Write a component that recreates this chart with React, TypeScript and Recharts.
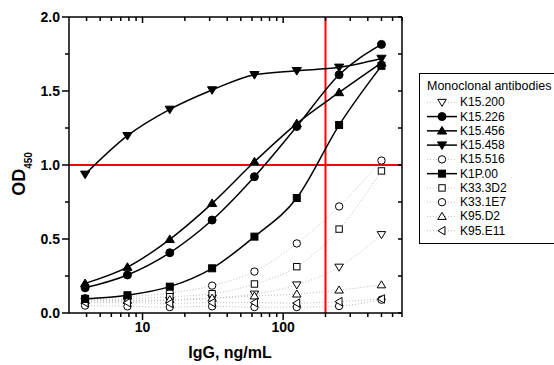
import { ComposedChart, Line, XAxis, YAxis, ReferenceLine } from 'recharts';

const F = '"Liberation Sans", Arial, sans-serif';

// IgG concentration, ng/mL (two-fold dilutions)
const conc = [3.90625, 7.8125, 15.625, 31.25, 62.5, 125, 250, 500];

// OD450 per antibody
const k15_200 = [0.08, 0.08, 0.085, 0.1, 0.128, 0.19, 0.31, 0.53];
const k15_226 = [0.17, 0.257, 0.407, 0.628, 0.921, 1.26, 1.61, 1.815];
const k15_456 = [0.2, 0.31, 0.498, 0.741, 1.022, 1.28, 1.49, 1.69];
const k15_458 = [0.937, 1.198, 1.376, 1.507, 1.61, 1.637, 1.66, 1.72];
const k15_516 = [0.1, 0.11, 0.135, 0.185, 0.28, 0.47, 0.72, 1.03];
const k1p_00 = [0.095, 0.12, 0.178, 0.302, 0.516, 0.777, 1.27, 1.67];
const k33_3d2 = [0.09, 0.095, 0.11, 0.13, 0.196, 0.313, 0.567, 0.96];
const k33_1e7 = [0.05, 0.045, 0.04, 0.045, 0.04, 0.04, 0.047, 0.09];
const k95_d2 = [0.085, 0.085, 0.09, 0.1, 0.115, 0.128, 0.155, 0.19];
const k95_e11 = [0.07, 0.07, 0.065, 0.07, 0.07, 0.067, 0.077, 0.095];

const xTicks = [4, 5, 6, 7, 8, 9, 10, 20, 30, 40, 50, 60, 70, 80, 90, 100, 200, 300, 400, 500, 600, 700];
const xLabelTicks = [10, 100];
const yTicks = [0, 0.25, 0.5, 0.75, 1, 1.25, 1.5, 1.75, 2];

type Shape = 'circle' | 'square' | 'up' | 'down' | 'left';

const series: { key: string; name: string; values: number[]; shape: Shape; filled: boolean }[] = [
  { key: 'k15_200', name: 'K15.200', values: k15_200, shape: 'down', filled: false },
  { key: 'k15_226', name: 'K15.226', values: k15_226, shape: 'circle', filled: true },
  { key: 'k15_456', name: 'K15.456', values: k15_456, shape: 'up', filled: true },
  { key: 'k15_458', name: 'K15.458', values: k15_458, shape: 'down', filled: true },
  { key: 'k15_516', name: 'K15.516', values: k15_516, shape: 'circle', filled: false },
  { key: 'k1p_00', name: 'K1P.00', values: k1p_00, shape: 'square', filled: true },
  { key: 'k33_3d2', name: 'K33.3D2', values: k33_3d2, shape: 'square', filled: false },
  { key: 'k33_1e7', name: 'K33.1E7', values: k33_1e7, shape: 'circle', filled: false },
  { key: 'k95_d2', name: 'K95.D2', values: k95_d2, shape: 'up', filled: false },
  { key: 'k95_e11', name: 'K95.E11', values: k95_e11, shape: 'left', filled: false },
];

const data = conc.map((c, i) => {
  const row: Record<string, number> = { c };
  series.forEach((s) => (row[s.key] = s.values[i]));
  return row;
});

const Marker = ({ cx, cy, shape, filled }: { cx?: number; cy?: number; shape: Shape; filled: boolean }) => {
  if (cx == null || cy == null) return null;
  const fill = filled ? '#000' : '#fff';
  const p = { fill, stroke: '#000', strokeWidth: 1 };
  const r = filled ? 4 : 3.7;
  if (shape === 'circle') return <circle cx={cx} cy={cy} r={r} {...p} />;
  if (shape === 'square') return <rect x={cx - r + 0.5} y={cy - r + 0.5} width={2 * r - 1} height={2 * r - 1} {...p} />;
  if (shape === 'up')
    return <polygon points={`${cx},${cy - r * 1.1} ${cx + r * 1.15},${cy + r * 0.8} ${cx - r * 1.15},${cy + r * 0.8}`} {...p} />;
  if (shape === 'down')
    return <polygon points={`${cx},${cy + r * 1.1} ${cx + r * 1.15},${cy - r * 0.8} ${cx - r * 1.15},${cy - r * 0.8}`} {...p} />;
  return <polygon points={`${cx - r * 1.1},${cy} ${cx + r * 0.8},${cy - r * 1.15} ${cx + r * 0.8},${cy + r * 1.15}`} {...p} />;
};

const BottomTick = (props: any) => {
  const { x, y, payload } = props;
  const major = xLabelTicks.includes(payload.value);
  return (
    <g>
      <line x1={x} x2={x} y1={y} y2={y + (major ? 7 : 4)} stroke="#000" strokeWidth={1.5} />
      {major && (
        <text x={x} y={y + 14} textAnchor="middle" dominantBaseline="central" fontFamily={F} fontWeight="bold" fontSize={14} fill="#000">
          {payload.value}
        </text>
      )}
    </g>
  );
};

const TopTick = (props: any) => {
  const { x, y, payload } = props;
  const major = xLabelTicks.includes(payload.value);
  return <line x1={x} x2={x} y1={y} y2={y + (major ? 6 : 4)} stroke="#000" strokeWidth={1.5} />;
};

const LeftTick = (props: any) => {
  const { x, y, payload } = props;
  const major = payload.value % 0.5 === 0;
  return (
    <g>
      <line x1={x} x2={x - (major ? 7 : 4)} y1={y} y2={y} stroke="#000" strokeWidth={1.5} />
      {major && (
        <text x={x - 9} y={y} textAnchor="end" dominantBaseline="central" fontFamily={F} fontWeight="bold" fontSize={14} fill="#000">
          {payload.value.toFixed(1)}
        </text>
      )}
    </g>
  );
};

const RightTick = (props: any) => {
  const { x, y } = props;
  return <line x1={x} x2={x - 4} y1={y} y2={y} stroke="#000" strokeWidth={1.5} />;
};

const axisLine = { stroke: '#000', strokeWidth: 1.5 };

export default function App() {
  return (
    <div style={{ position: 'absolute', left: 0, top: 0, width: 554, height: 365, overflow: 'hidden', background: '#fff' }}>
      <ComposedChart width={554} height={365} data={data} margin={{ top: 7, right: 0, bottom: 22, left: 0 }}>
        <XAxis xAxisId="b" dataKey="c" type="number" scale="log" domain={[3, 700]} allowDataOverflow ticks={xTicks} interval={0}
          tickLine={false} tickSize={0} tickMargin={0} height={30} axisLine={axisLine} tick={BottomTick} />
        <XAxis xAxisId="t" orientation="top" dataKey="c" type="number" scale="log" domain={[3, 700]} allowDataOverflow ticks={xTicks} interval={0}
          tickLine={false} tickSize={0} tickMargin={0} height={10} axisLine={axisLine} tick={TopTick} />
        <YAxis yAxisId="l" type="number" domain={[0, 2]} ticks={yTicks} interval={0} tickLine={false} tickSize={0} tickMargin={0}
          width={69} axisLine={axisLine} tick={LeftTick} />
        <YAxis yAxisId="r" orientation="right" type="number" domain={[0, 2]} ticks={yTicks} interval={0} tickLine={false} tickSize={0}
          tickMargin={0} width={152} axisLine={axisLine} tick={RightTick} />
        {series.filter((s) => !s.filled).map((s) => (
          <Line key={s.key} xAxisId="t" yAxisId="r" dataKey={s.key} type="monotone" stroke="#bdbdbd" strokeWidth={1}
            strokeDasharray="1 2" isAnimationActive={false} activeDot={false}
            dot={(p: any) => <Marker key={`${s.key}-${p.index}`} cx={p.cx} cy={p.cy} shape={s.shape} filled={false} />} />
        ))}
        <ReferenceLine xAxisId="b" yAxisId="l" y={1} stroke="#ff0000" strokeWidth={2} />
        <ReferenceLine xAxisId="b" yAxisId="l" x={200} stroke="#ff0000" strokeWidth={2} />
        {series.filter((s) => s.filled).map((s) => (
          <Line key={s.key} xAxisId="b" yAxisId="l" dataKey={s.key} type="monotone" stroke="#000" strokeWidth={1.5}
            isAnimationActive={false} activeDot={false}
            dot={(p: any) => <Marker key={`${s.key}-${p.index}`} cx={p.cx} cy={p.cy} shape={s.shape} filled />} />
        ))}
      </ComposedChart>
      <svg width={554} height={365} style={{ position: 'absolute', left: 0, top: 0, pointerEvents: 'none' }}>
        <text transform="translate(25,174) rotate(-90)" textAnchor="middle" fontFamily={F} fontWeight="bold" fontSize={18} fill="#000">
          OD<tspan dy={7} fontSize={10}>450</tspan>
        </text>
        <text x={230} y={358} textAnchor="middle" fontFamily={F} fontWeight="bold" fontSize={16} fill="#000">
          IgG, ng/mL
        </text>
        <rect x={419.5} y={73.5} width={150} height={170} fill="#fff" stroke="#000" strokeWidth={1} />
        <text x={427} y={86} dominantBaseline="central" fontFamily={F} fontSize={12.5} fill="#000">
          Monoclonal antibodies
        </text>
        {series.map((s, i) => {
          const y = 102.3 + i * 14.27;
          return (
            <g key={s.key}>
              <line x1={427} x2={457} y1={y} y2={y} stroke={s.filled ? '#000' : '#bdbdbd'} strokeWidth={s.filled ? 1.5 : 1}
                strokeDasharray={s.filled ? undefined : '1 2'} />
              <Marker cx={442} cy={y} shape={s.shape} filled={s.filled} />
              <text x={460} y={y} dominantBaseline="central" fontFamily={F} fontSize={12} fill="#000">
                {s.name}
              </text>
            </g>
          );
        })}
      </svg>
    </div>
  );
}
